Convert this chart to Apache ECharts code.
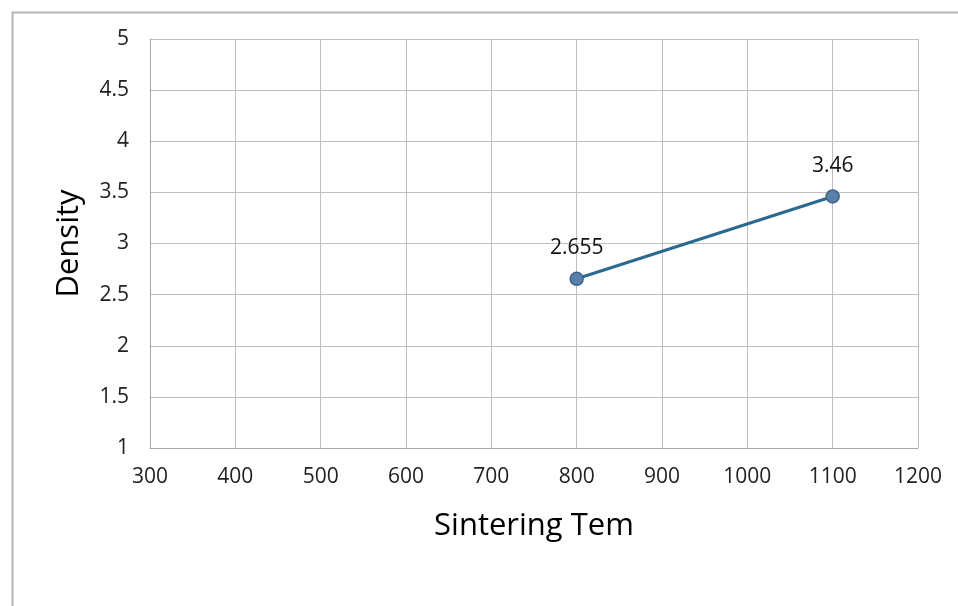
<!DOCTYPE html>
<html><head><meta charset="utf-8">
<script src="https://cdn.jsdelivr.net/npm/echarts@6/dist/echarts.min.js"></script>
<style>html,body{margin:0;padding:0;background:#fff}#c{width:958px;height:606px}</style>
</head><body><div id="c"></div>
<script>
const temps = [800, 1100];
const density = [2.655, 3.46];
const xName = 'Sintering Tem';
const yName = 'Density';
const FONT = 'Open Sans';

const chart = echarts.init(document.getElementById('c'));
chart.setOption({
  animation: false,
  backgroundColor: '#fff',
  graphic: [{
    type: 'rect', left: 10, top: 10,
    shape: { x: 0, y: 0, width: 1200, height: 900 },
    style: { fill: 'none', stroke: '#b3b3b3', lineWidth: 2 }, z: -1, silent: true
  }],
  grid: { left: 150, top: 39, right: 40, bottom: 158, show: false },
  xAxis: {
    type: 'value', min: 300, max: 1200, interval: 100,
    name: xName, nameLocation: 'middle', nameGap: 63,
    nameTextStyle: { fontFamily: FONT, fontSize: 31, color: '#000' },
    axisLine: { show: true, lineStyle: { color: '#a6a6a6', width: 1 } },
    axisTick: { show: false },
    axisLabel: { fontFamily: FONT, fontSize: 21, color: '#222', margin: 19, formatter: v => String(v) },
    splitLine: { show: true, lineStyle: { color: '#bfbfbf', width: 1 } }
  },
  yAxis: {
    type: 'value', min: 1, max: 5, interval: 0.5,
    name: yName, nameLocation: 'middle', nameGap: 65, nameRotate: 90,
    nameTextStyle: { fontFamily: FONT, fontSize: 31, color: '#000' },
    axisLine: { show: true, lineStyle: { color: '#a6a6a6', width: 1 } },
    axisTick: { show: false },
    axisLabel: { fontFamily: FONT, fontSize: 21, color: '#222', margin: 21, formatter: v => String(v) },
    splitLine: { show: true, lineStyle: { color: '#bfbfbf', width: 1 } }
  },
  series: [{
    type: 'line',
    data: temps.map((t, i) => [t, density[i]]),
    lineStyle: { color: '#2b6a90', width: 3 },
    symbol: 'circle', symbolSize: 13,
    itemStyle: { color: '#5a7fa8', borderColor: '#3d6690', borderWidth: 1.5 },
    label: { show: true, position: 'top', distance: 13, fontFamily: FONT, fontSize: 21, color: '#111' }
  }]
});
</script></body></html>
